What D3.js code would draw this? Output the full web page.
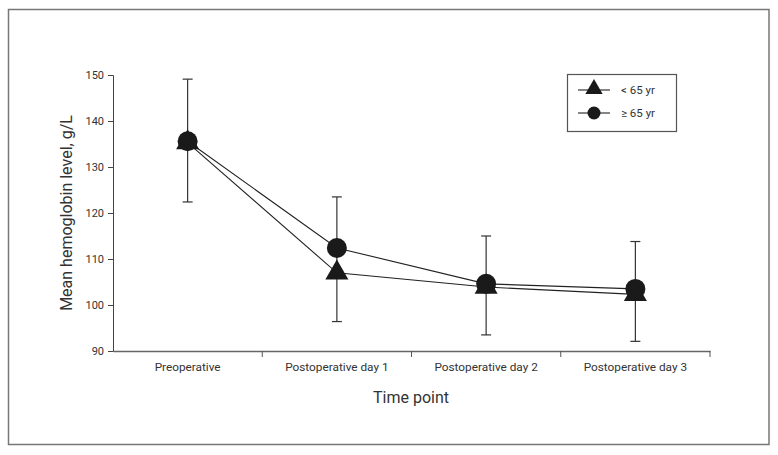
<!DOCTYPE html>
<html><head><meta charset="utf-8">
<script src="https://cdn.jsdelivr.net/npm/d3@7"></script>
<style>body{margin:0;background:#fff}svg{display:block}text{font-family:Roboto,"Liberation Sans",sans-serif;fill:#333}</style>
</head><body><svg id="c" width="778" height="455"></svg>
<script>
const categories = ["Preoperative","Postoperative day 1","Postoperative day 2","Postoperative day 3"];
const under65 = [135.3, 107.0, 103.9, 102.3];
const over65 = [135.6, 112.4, 104.6, 103.5];
const errLow = [122.4, 96.4, 93.5, 92.1];
const errHigh = [149.1, 123.5, 115.0, 113.8];
const yTicks = [90,100,110,120,130,140,150];
const seriesNames = ["< 65 yr","\u2265 65 yr"];

const svg = d3.select("#c");
svg.append("rect").attr("x",8.5).attr("y",9.5).attr("width",760.5).attr("height",435).attr("fill","none").attr("stroke","#777").attr("stroke-width",1.5);

const x = d3.scaleBand().domain(categories).range([113,710]);
const y = d3.scaleLinear().domain([90,150]).range([351,75]);
const cx = d => x(d)+x.bandwidth()/2;

// axes
const yAx = svg.append("g").attr("transform","translate(113,0)")
  .call(d3.axisLeft(y).tickValues(yTicks).tickSize(5).tickPadding(4));
yAx.select(".domain").attr("stroke","#444");
yAx.selectAll(".tick line").attr("stroke","#444");
yAx.selectAll("text").attr("font-size",11).attr("fill","#444");

const xAx = svg.append("g").attr("transform","translate(0,351)")
  .call(d3.axisBottom(x).tickSize(0).tickPadding(12).tickSizeOuter(0));
xAx.select(".domain").attr("stroke","#666").attr("stroke-width",1.5);
xAx.selectAll("text").attr("font-size",11.8).attr("fill","#444");
// boundary ticks
const bounds = categories.map(c=>x(c)).concat([x.range()[1]]);
svg.append("g").selectAll("line").data(bounds.slice(1)).join("line")
  .attr("x1",d=>d).attr("x2",d=>d).attr("y1",351).attr("y2",357).attr("stroke","#555");

// error bars
const eb = svg.append("g").attr("stroke","#333").attr("stroke-width",1.2);
categories.forEach((c,i)=>{
  eb.append("line").attr("x1",cx(c)).attr("x2",cx(c)).attr("y1",y(errHigh[i])).attr("y2",y(errLow[i]));
  [errHigh[i],errLow[i]].forEach(v=>eb.append("line").attr("x1",cx(c)-5).attr("x2",cx(c)+5).attr("y1",y(v)).attr("y2",y(v)));
});

// lines
const line = d3.line().x((d,i)=>cx(categories[i])).y(d=>y(d));
[under65, over65].forEach(s=>svg.append("path").attr("d",line(s)).attr("fill","none").attr("stroke","#222").attr("stroke-width",1.1));

// markers
const tri = d3.symbol().type(d3.symbolTriangle).size(230);
svg.append("g").selectAll("path").data(under65).join("path")
  .attr("d",tri).attr("transform",(d,i)=>`translate(${cx(categories[i])},${y(d)})`).attr("fill","#1a1a1a");
svg.append("g").selectAll("circle").data(over65).join("circle")
  .attr("cx",(d,i)=>cx(categories[i])).attr("cy",d=>y(d)).attr("r",10).attr("fill","#1a1a1a");

// legend
const lg = svg.append("g");
lg.append("rect").attr("x",567.5).attr("y",74.5).attr("width",109).attr("height",57).attr("fill","#fff").attr("stroke","#555").attr("stroke-width",1.2);
[0,1].forEach(i=>{
  const ly = 90 + i*23;
  lg.append("line").attr("x1",578).attr("x2",610).attr("y1",ly).attr("y2",ly).attr("stroke","#222").attr("stroke-width",1.1);
  if(i===0) lg.append("path").attr("d",d3.symbol().type(d3.symbolTriangle).size(130)()).attr("transform",`translate(594,${ly-1})`).attr("fill","#1a1a1a");
  else lg.append("circle").attr("cx",594).attr("cy",ly).attr("r",6.5).attr("fill","#1a1a1a");
  lg.append("text").attr("x",621).attr("y",ly+4).attr("font-size",11.5).attr("fill","#444").text(seriesNames[i]);
});

// titles
svg.append("text").attr("x",411).attr("y",403).attr("text-anchor","middle").attr("font-size",16).text("Time point");
svg.append("text").attr("transform","translate(72,213) rotate(-90)").attr("text-anchor","middle").attr("font-size",16).text("Mean hemoglobin level, g/L");
</script></body></html>
